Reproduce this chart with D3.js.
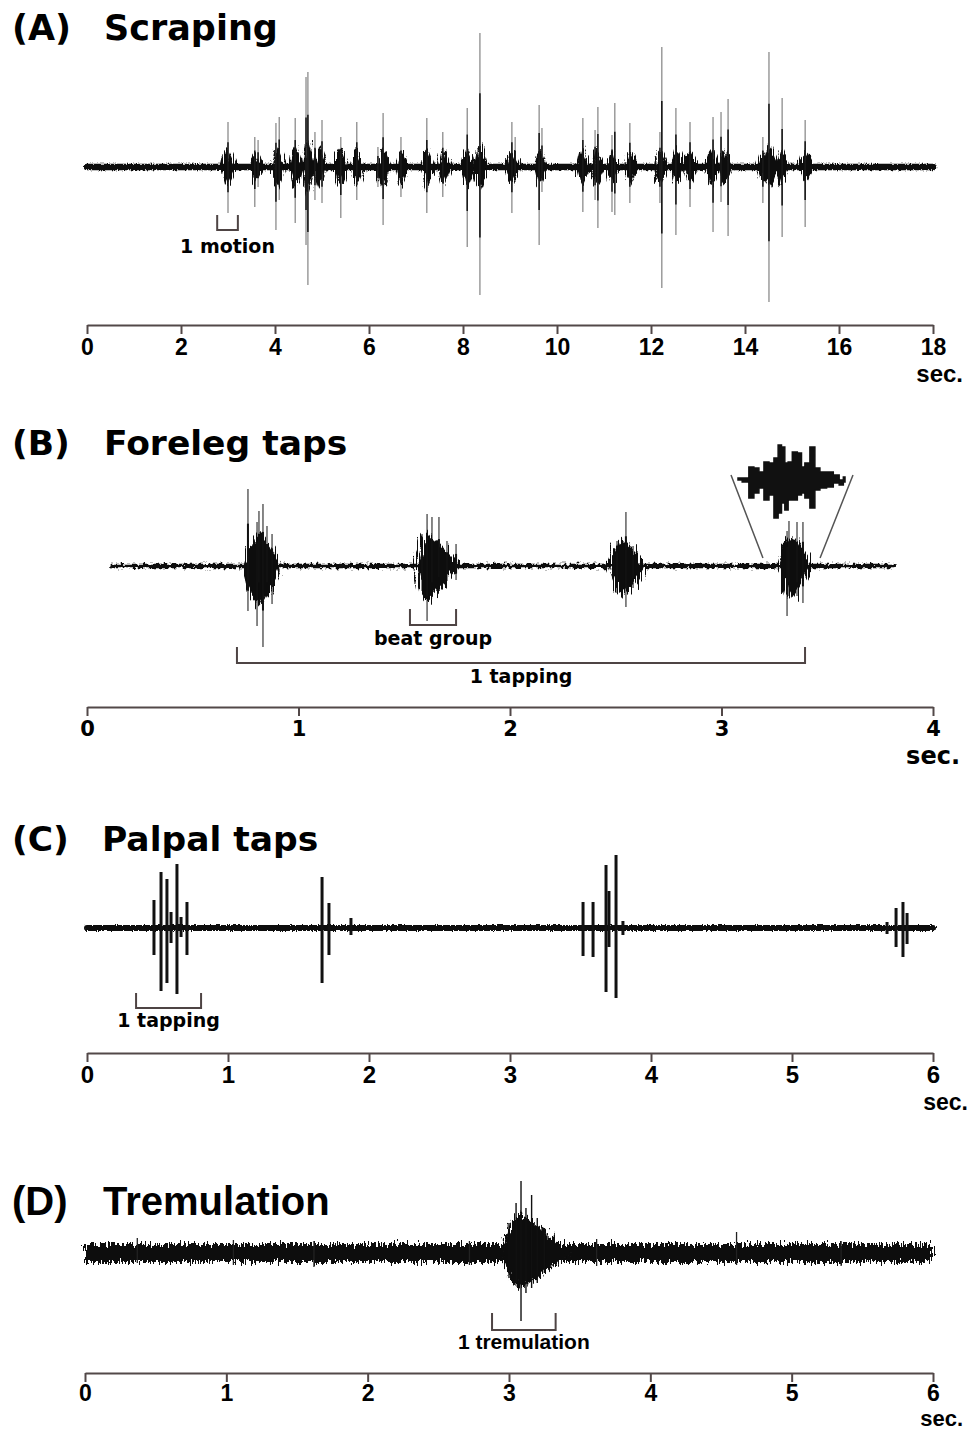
<!DOCTYPE html>
<html>
<head>
<meta charset="utf-8">
<script src="https://cdn.jsdelivr.net/npm/d3@7"></script>
<style>
  body { margin: 0; background: #fff; }
  svg { display: block; }
</style>
</head>
<body>
<div id="chart"></div>
<script>
'use strict'

// ---------- data: time in seconds, amplitude in relative units ----------

// (A) scraping
const scrapeTicks = [0, 2, 4, 6, 8, 10, 12, 14, 16, 18]
const scrapeTrace = [0, 18]
// [time, up, down]
const scrapeSpikes = [
  [3.00, 0.45, 0.46], [3.57, 0.30, 0.40], [3.64, 0.27, 0.20], [4.02, 0.44, 0.63],
  [4.09, 0.50, 0.33], [4.43, 0.49, 0.56], [4.66, 0.90, 0.78], [4.70, 0.95, 1.18],
  [4.85, 0.35, 0.33], [5.00, 0.47, 0.36], [5.40, 0.30, 0.51], [5.74, 0.45, 0.33],
  [6.19, 0.20, 0.20], [6.30, 0.54, 0.58], [6.68, 0.30, 0.30], [7.23, 0.49, 0.46],
  [7.57, 0.35, 0.30], [8.09, 0.59, 0.80], [8.36, 1.34, 1.28], [9.04, 0.45, 0.46],
  [9.11, 0.30, 0.15], [9.62, 0.62, 0.78], [9.68, 0.39, 0.25], [10.55, 0.49, 0.45],
  [10.81, 0.37, 0.33], [10.87, 0.60, 0.61], [11.17, 0.32, 0.45], [11.23, 0.64, 0.48],
  [11.55, 0.44, 0.36], [12.19, 0.35, 0.36], [12.23, 1.20, 1.21], [12.53, 0.59, 0.68],
  [12.83, 0.45, 0.40], [13.32, 0.50, 0.65], [13.49, 0.55, 0.35], [13.64, 0.68, 0.69],
  [14.38, 0.30, 0.36], [14.51, 1.15, 1.35], [14.79, 0.69, 0.70], [15.28, 0.47, 0.60]
]
// [time, amplitude] dark cores of each motion
const scrapeBursts = [
  [3.0, 0.14], [3.6, 0.12], [4.05, 0.16], [4.45, 0.17], [4.7, 0.20], [4.95, 0.16],
  [5.4, 0.15], [5.75, 0.15], [6.3, 0.15], [6.7, 0.13], [7.25, 0.15], [7.6, 0.14],
  [8.1, 0.15], [8.38, 0.17], [9.05, 0.13], [9.65, 0.14], [10.55, 0.14], [10.85, 0.13],
  [11.2, 0.13], [11.58, 0.12], [12.2, 0.13], [12.55, 0.14], [12.85, 0.12], [13.3, 0.15],
  [13.58, 0.14], [14.4, 0.12], [14.55, 0.15], [14.8, 0.14], [15.3, 0.12]
]

// (B) foreleg taps
const forelegTicks = [0, 1, 2, 3, 4]
const forelegTrace = [0.12, 3.81]
const forelegSpikes = [
  [0.761, 0.77, 0.45], [0.804, 0.44, 0.60], [0.813, 0.55, 0.30], [0.832, 0.62, 0.81],
  [0.851, 0.40, 0.30], [0.875, 0.32, 0.38],
  [1.584, 0.32, 0.25], [1.608, 0.52, 0.55], [1.631, 0.49, 0.30], [1.664, 0.49, 0.20],
  [1.702, 0.25, 0.15], [1.745, 0.22, 0.14],
  [2.506, 0.25, 0.27], [2.548, 0.54, 0.41], [2.582, 0.20, 0.22],
  [3.310, 0.35, 0.50], [3.319, 0.45, 0.30], [3.357, 0.44, 0.30], [3.385, 0.44, 0.37]
]
// [start, peak, end, up, down]
const forelegBursts = [
  [0.742, 0.82, 0.92, 0.33, 0.40],
  [1.56, 1.61, 1.76, 0.32, 0.36],
  [2.46, 2.54, 2.64, 0.26, 0.30],
  [3.26, 3.33, 3.43, 0.30, 0.34]
]
// magnified beat (inset), position within the window 0..1
const insetPos  = [0, .078, .125, .172, .219, .266, .313, .359, .391, .422, .453, .484, .531, .578, .609, .641, .703, .734, .797, .859, .922, .969, 1]
const insetUp   = [.02, .02, .13, .12, .08, .18, .17, .22, .35, .33, .17, .18, .28, .27, .13, .17, .33, .12, .08, .08, .05, 0, .03]
const insetDown = [0, .02, .18, .13, .08, .20, .15, .38, .33, .23, .30, .20, .20, .15, .13, .18, .28, .10, .08, .07, .03, .05, .02]

// (C) palpal taps
const palpalTicks = [0, 1, 2, 3, 4, 5, 6]
const palpalTrace = [0, 6]
const palpalSpikes = [
  [0.475, 0.28, 0.27], [0.525, 0.56, 0.63], [0.567, 0.49, 0.55], [0.596, 0.16, 0.15],
  [0.638, 0.64, 0.66], [0.667, 0.11, 0.09], [0.709, 0.26, 0.27],
  [1.667, 0.51, 0.55], [1.716, 0.25, 0.27], [1.872, 0.10, 0.07],
  [3.518, 0.26, 0.28], [3.589, 0.26, 0.29], [3.681, 0.63, 0.64], [3.702, 0.37, 0.19],
  [3.752, 0.73, 0.70], [3.801, 0.07, 0.07],
  [5.674, 0.06, 0.06], [5.738, 0.20, 0.19], [5.787, 0.26, 0.29], [5.816, 0.15, 0.16]
]

// (D) tremulation
const tremTicks = [0, 1, 2, 3, 4, 5, 6]
const tremTrace = [0, 6]
const tremBursts = [[2.95, 3.08, 3.42, 0.40, 0.36]]
const tremSpikes = [
  [3.00, 0.30, 0.25], [3.05, 0.50, 0.30], [3.085, 0.72, 0.68], [3.12, 0.45, 0.40],
  [3.16, 0.58, 0.35], [3.20, 0.35, 0.30], [3.25, 0.25, 0.20]
]
const tremNoise = [
  [0.37, 0.15, 0.10], [1.05, 0.13, 0.12], [1.62, 0.12, 0.14], [2.72, 0.12, 0.12],
  [3.62, 0.14, 0.13], [4.61, 0.21, 0.12], [5.35, 0.12, 0.13]
]

// ---------- layout ----------
const W = 979, H = 1431
const svg = d3.select('#chart').append('svg').attr('width', W).attr('height', H)

const defs = svg.append('defs')
function roughFilter(id, freq, scale) {
  const f = defs.append('filter').attr('id', id)
    .attr('filterUnits', 'userSpaceOnUse')
    .attr('x', 0).attr('y', 0).attr('width', W).attr('height', H)
  f.append('feTurbulence').attr('type', 'fractalNoise')
    .attr('baseFrequency', freq).attr('numOctaves', 2).attr('seed', 4).attr('result', 'n')
  f.append('feDisplacementMap').attr('in', 'SourceGraphic').attr('in2', 'n')
    .attr('scale', scale).attr('xChannelSelector', 'R').attr('yChannelSelector', 'G')
}
roughFilter('rough', '0.8 0.5', 4)
roughFilter('roughB', '0.3 0.3', 7)
roughFilter('streak', '0.9 0.04', 14)
roughFilter('streakB', '0.6 0.02', 24)
roughFilter('roughD', '0.7 0.12', 16)

const bold = "'DejaVu Sans', Verdana, sans-serif"
const arial = "'Liberation Sans', Arial, Helvetica, sans-serif"
const axisColor = '#524848'

function title(letter, name, y, font, size, nameX) {
  svg.append('text').attr('x', 12).attr('y', y)
    .attr('font-family', font).attr('font-weight', 'bold').attr('font-size', size)
    .text(letter)
  svg.append('text').attr('x', nameX).attr('y', y)
    .attr('font-family', font).attr('font-weight', 'bold').attr('font-size', size)
    .text(name)
}

function timeAxis(x, ticks, y, font, size, pad, secX, secY, secSize) {
  const g = svg.append('g').attr('transform', `translate(0,${y})`)
    .call(d3.axisBottom(x).tickValues(ticks).tickSize(9).tickSizeOuter(0).tickPadding(pad).tickFormat(d3.format('d')))
  g.attr('font-family', null).attr('font-size', null)
  g.select('.domain').attr('stroke', axisColor).attr('stroke-width', 2.2)
  g.selectAll('.tick line').attr('stroke', axisColor).attr('stroke-width', 2)
  g.selectAll('.tick text').attr('fill', '#000')
    .style('font-family', font).style('font-weight', 'bold').style('font-size', size + 'px')
  svg.append('text').attr('x', secX).attr('y', secY).attr('text-anchor', 'end')
    .style('font-family', font).style('font-weight', 'bold').style('font-size', secSize + 'px')
    .text('sec.')
}

function bracket(x, t0, t1, yTop, yBot, label, labelY, font, size) {
  svg.append('path')
    .attr('d', `M${x(t0)},${yTop}V${yBot}H${x(t1)}V${yTop}`)
    .attr('fill', 'none').attr('stroke', '#4e4444').attr('stroke-width', 2)
  svg.append('text').attr('x', (x(t0) + x(t1)) / 2).attr('y', labelY)
    .attr('text-anchor', 'middle')
    .style('font-family', font).style('font-weight', 'bold').style('font-size', size + 'px')
    .text(label)
}

function spikes(g, x, y, data, color, width, frac) {
  g.append('g').selectAll('line').data(data).join('line')
    .attr('x1', d => x(d[0])).attr('x2', d => x(d[0]))
    .attr('y1', d => y(d[1] * frac)).attr('y2', d => y(-d[2] * frac))
    .attr('stroke', color).attr('stroke-width', width)
}

function envelopes(g, x, y, data, filter) {
  const shape = d3.line().x(d => x(d[0])).y(d => y(d[1])).curve(d3.curveLinearClosed)
  g.append('g').attr('filter', filter).selectAll('path').data(data).join('path')
    .attr('d', d => shape([
      [d[0], 0.02], [(d[0] + d[1]) / 2, d[3] * 0.8], [d[1], d[3]], [(d[1] + d[2]) / 2, d[3] * 0.55], [d[2], 0.02],
      [d[2], -0.02], [(d[1] + d[2]) / 2, -d[4] * 0.55], [d[1], -d[4]], [(d[0] + d[1]) / 2, -d[4] * 0.8], [d[0], -0.02]
    ]))
    .attr('fill', '#111')
}

// ---------- (A) Scraping ----------
{
  const x = d3.scaleLinear().domain([0, 18]).range([87, 933])
  const y = d3.scaleLinear().domain([-1, 1]).range([167 + 100, 167 - 100])
  title('(A)', 'Scraping', 40, bold, 35, 104)
  const g = svg.append('g')
  spikes(g, x, y, scrapeSpikes, '#8c8c8c', 1.3, 1)
  g.append('path').attr('filter', 'url(#rough)')
    .attr('d', d3.line().x(d => x(d)).y(() => y(0))(scrapeTrace))
    .attr('stroke', '#111').attr('stroke-width', 6.5).attr('stroke-linecap', 'round')
  envelopes(g, x, y, scrapeBursts.map(d => [d[0] - 0.13, d[0], d[0] + 0.15, d[1] * 1.3, d[1] * 1.3]), 'url(#streak)')
  spikes(g, x, y, scrapeSpikes, '#1a1a1a', 1.6, 0.55)
  bracket(x, 2.77, 3.21, 215, 230, '1 motion', 253, bold, 19)
  timeAxis(x, scrapeTicks, 325, arial, 23, 5, 963, 382, 24)
}

// ---------- (B) Foreleg taps ----------
{
  const x = d3.scaleLinear().domain([0, 4]).range([87, 933])
  const y = d3.scaleLinear().domain([-1, 1]).range([566 + 100, 566 - 100])
  title('(B)', 'Foreleg taps', 455, bold, 34.5, 104)
  const g = svg.append('g')
  spikes(g, x, y, forelegSpikes, '#7a7a7a', 1.8, 1)
  g.append('path').attr('filter', 'url(#roughB)')
    .attr('d', d3.line().x(d => x(d)).y(() => y(0))(forelegTrace))
    .attr('stroke', '#111').attr('stroke-width', 4.5).attr('stroke-linecap', 'round')
  envelopes(g, x, y, forelegBursts, 'url(#streakB)')
  spikes(g, x, y, forelegSpikes, '#111', 2, 0.55)

  // magnified beat
  const xi = d3.scaleLinear().domain([0, 1]).range([738, 845])
  const yi = d3.scaleLinear().domain([-1, 1]).range([480 + 100, 480 - 100])
  const pts = insetPos.map((p, i) => [p, insetUp[i]]).concat(insetPos.map((p, i) => [p, -insetDown[i]]).reverse())
  g.append('path')
    .attr('d', d3.line().x(d => xi(d[0])).y(d => yi(d[1])).curve(d3.curveStep)(pts) + 'Z')
    .attr('fill', '#111').attr('stroke', '#111').attr('stroke-width', 1.5)
  g.append('path')
    .attr('d', `M${xi(0) - 7},475L${x(3.196)},558M${xi(1) + 8},475L${x(3.466)},558`)
    .attr('stroke', '#555').attr('stroke-width', 1.5).attr('fill', 'none')

  bracket(x, 1.527, 1.745, 609, 625, 'beat group', 645, bold, 19)
  bracket(x, 0.709, 3.395, 647, 663, '1 tapping', 683, bold, 19)
  timeAxis(x, forelegTicks, 707, bold, 21, 5, 960, 764, 24)
}

// ---------- (C) Palpal taps ----------
{
  const x = d3.scaleLinear().domain([0, 6]).range([87, 933])
  const y = d3.scaleLinear().domain([-1, 1]).range([928 + 100, 928 - 100])
  title('(C)', 'Palpal taps', 851, bold, 34.5, 102)
  const g = svg.append('g')
  g.append('path').attr('filter', 'url(#rough)')
    .attr('d', d3.line().x(d => x(d)).y(() => y(0))(palpalTrace))
    .attr('stroke', '#111').attr('stroke-width', 6).attr('stroke-linecap', 'round')
  spikes(g, x, y, palpalSpikes, '#111', 3, 1)
  bracket(x, 0.348, 0.809, 993, 1008, '1 tapping', 1027, bold, 19)
  timeAxis(x, palpalTicks, 1053, arial, 24, 4, 968, 1110, 23)
}

// ---------- (D) Tremulation ----------
{
  const x = d3.scaleLinear().domain([0, 6]).range([85, 933])
  const y = d3.scaleLinear().domain([-1, 1]).range([1253 + 100, 1253 - 100])
  title('(D)', 'Tremulation', 1215, arial, 40, 103)
  const g = svg.append('g')
  g.append('rect').attr('filter', 'url(#roughD)')
    .attr('x', x(tremTrace[0])).attr('width', x(tremTrace[1]) - x(tremTrace[0]))
    .attr('y', y(0.09)).attr('height', y(-0.09) - y(0.09))
    .attr('fill', '#111')
  spikes(g, x, y, tremNoise, '#222', 1.3, 1)
  envelopes(g, x, y, tremBursts, 'url(#roughD)')
  spikes(g, x, y, tremSpikes, '#111', 1.4, 1)
  bracket(x, 2.88, 3.33, 1313, 1330, '1 tremulation', 1349, arial, 21)
  timeAxis(x, tremTicks, 1373, arial, 23, 3, 963, 1426, 22)
}
</script>
</body>
</html>
